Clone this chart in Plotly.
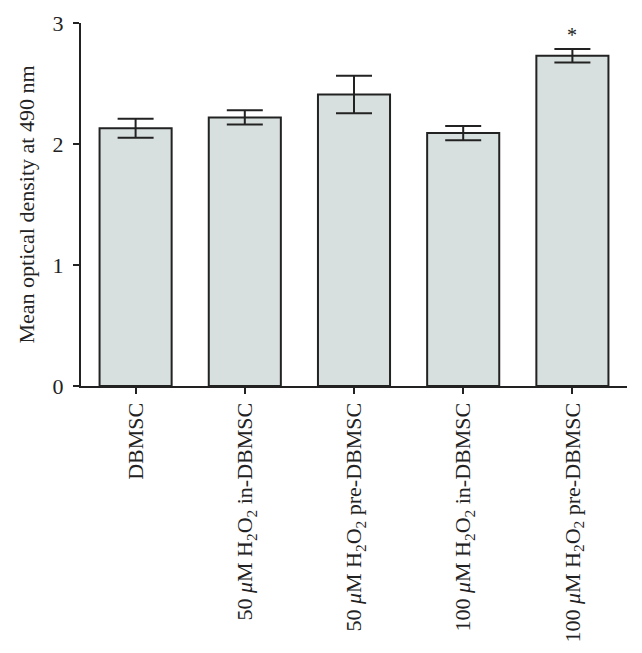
import plotly.graph_objects as go

categories = [
    "DBMSC",
    "50 <i>μ</i>M H<sub>2</sub>O<sub>2</sub> in-DBMSC",
    "50 <i>μ</i>M H<sub>2</sub>O<sub>2</sub> pre-DBMSC",
    "100 <i>μ</i>M H<sub>2</sub>O<sub>2</sub> in-DBMSC",
    "100 <i>μ</i>M H<sub>2</sub>O<sub>2</sub> pre-DBMSC",
]
means = [2.13, 2.22, 2.41, 2.09, 2.73]
errors = [0.078, 0.058, 0.155, 0.058, 0.056]
marks = ["", "", "", "", "*"]

font = "Liberation Serif"
ink = "#222222"

fig = go.Figure()
fig.add_trace(go.Bar(
    x=categories, y=means,
    marker=dict(color="#d8e0df", line=dict(color=ink, width=2)),
    error_y=dict(type="data", array=errors, color=ink, thickness=2, width=18),
    width=0.66,
    showlegend=False,
))
# significance marker above the error bar
for c, m, e, s in zip(categories, means, errors, marks):
    if s:
        fig.add_annotation(x=c, y=m + e, text=s, showarrow=False, yshift=14,
                           font=dict(family=font, size=20, color=ink))

# page body has an 8px margin, so margins are shifted to compensate
fig.update_layout(
    width=642, height=653,
    margin=dict(l=73, r=23, t=15, b=275),
    plot_bgcolor="white", paper_bgcolor="white",
    font=dict(family=font, size=22, color=ink),
)
fig.update_xaxes(
    range=[-0.5, 4.5], showline=True, linecolor=ink, linewidth=2,
    ticks="outside", ticklen=6, tickwidth=2, tickcolor=ink,
    tickangle=-90, tickfont=dict(size=22), automargin=False,
)
fig.update_yaxes(
    range=[0, 3], tickvals=[0, 1, 2, 3], showgrid=False, zeroline=False,
    showline=True, linecolor=ink, linewidth=2,
    ticks="outside", ticklen=6, tickwidth=2, tickcolor=ink,
    ticklabelstandoff=5, automargin=False,
    title=dict(text="Mean optical density at 490 nm", standoff=12, font=dict(size=22)),
    tickfont=dict(size=22),
)

fig.write_html("out.html")
